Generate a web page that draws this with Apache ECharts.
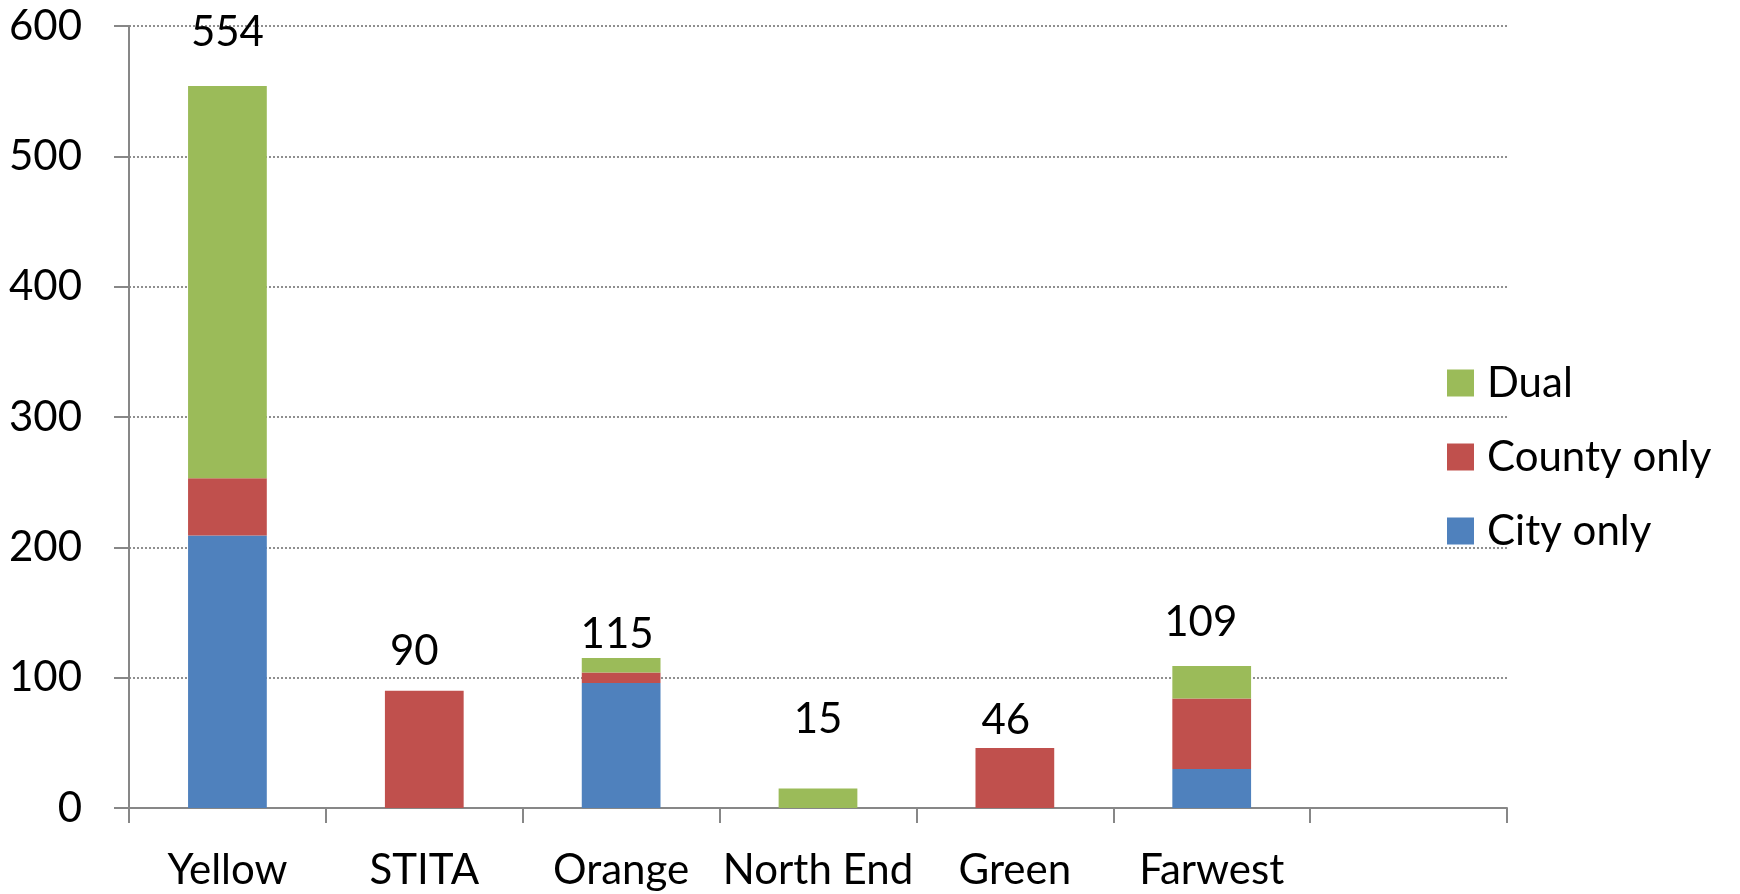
<!DOCTYPE html>
<html>
<head>
<meta charset="utf-8">
<script src="https://cdn.jsdelivr.net/npm/echarts@6/dist/echarts.min.js"></script>
<style>
  html, body { margin: 0; padding: 0; background: #fff; }
  #chart { width: 1740px; height: 894px; }
</style>
</head>
<body>
<div id="chart"></div>
<script>
// ---- data ----
const categories = ['Yellow', 'STITA', 'Orange', 'North End', 'Green', 'Farwest', ''];
const cityOnly   = [209, 0, 96, 0, 0, 30, null];
const countyOnly = [44, 90, 8, 0, 46, 54, null];
const dual       = [301, 0, 11, 15, 0, 25, null];
const yTicks     = [0, 100, 200, 300, 400, 500, 600];

// ---- layout (label placement as in the reference) ----
const labelOffsets = [[0, -33], [-10, -18], [-4, -3], [0, -48], [-9, -7], [-11, -22]];

const totals = categories.map((c, i) =>
  cityOnly[i] == null ? null : cityOnly[i] + countyOnly[i] + dual[i]);

const FONT = 'Lato';
const FS = 42;
const AXIS_GRAY = '#878787';
const BAR_W = '40%';

const chart = echarts.init(document.getElementById('chart'), null, { renderer: 'canvas' });

const option = {
  animation: false,
  backgroundColor: '#ffffff',
  textStyle: { fontFamily: FONT },
  grid: { left: 129, right: 233, top: 26, bottom: 86 },
  legend: {
    data: ['Dual', 'County only', 'City only'],
    orient: 'vertical',
    left: 1442,
    top: 357,
    itemWidth: 27,
    itemHeight: 27,
    itemGap: 32,
    icon: 'rect',
    selectedMode: false,
    textStyle: { fontFamily: FONT, fontSize: FS, color: '#000', lineHeight: FS, padding: [0, 0, 0, 8] }
  },
  xAxis: {
    type: 'category',
    data: categories,
    boundaryGap: true,
    axisLine: { show: true, lineStyle: { color: AXIS_GRAY, width: 2 } },
    axisTick: { show: true, interval: 0, alignWithLabel: false, length: 15, lineStyle: { color: AXIS_GRAY, width: 2 } },
    axisLabel: { interval: 0, margin: 41, fontFamily: FONT, fontSize: FS, color: '#000' },
    splitLine: { show: false }
  },
  yAxis: {
    type: 'value',
    min: yTicks[0],
    max: yTicks[yTicks.length - 1],
    interval: yTicks[1] - yTicks[0],
    axisLine: { show: true, lineStyle: { color: AXIS_GRAY, width: 2 } },
    axisTick: { show: true, length: 15, lineStyle: { color: AXIS_GRAY, width: 2 } },
    axisLabel: { margin: 47, fontFamily: FONT, fontSize: FS, color: '#000' },
    splitLine: { show: true, lineStyle: { color: '#8f8f8f', width: 2, type: [2, 2] } }
  },
  series: [
    {
      name: 'City only', type: 'bar', stack: 'a', barWidth: BAR_W,
      itemStyle: { color: '#4F81BD' }, data: cityOnly
    },
    {
      name: 'County only', type: 'bar', stack: 'a', barWidth: BAR_W,
      itemStyle: { color: '#C0504D' }, data: countyOnly
    },
    {
      name: 'Dual', type: 'bar', stack: 'a', barWidth: BAR_W,
      itemStyle: { color: '#9BBB59' }, data: dual
    },
    {
      name: 'Total', type: 'bar', barWidth: BAR_W, barGap: '-100%', silent: true,
      itemStyle: { color: 'rgba(0,0,0,0)' },
      z: 1,
      data: totals.map((v, i) => ({
        value: v,
        label: labelOffsets[i] ? { offset: labelOffsets[i] } : undefined
      })),
      label: {
        show: true, position: 'top', distance: 0,
        fontFamily: FONT, fontSize: FS, lineHeight: FS, color: '#000',
        formatter: p => p.value == null ? '' : String(p.value)
      }
    }
  ]
};

chart.setOption(option);
</script>
</body>
</html>
